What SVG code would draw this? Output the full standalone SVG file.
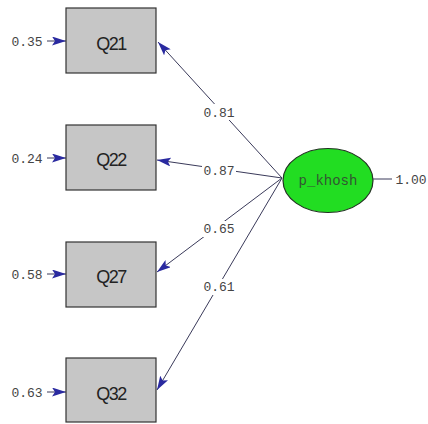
<svg xmlns="http://www.w3.org/2000/svg" width="428" height="424" viewBox="0 0 428 424">
<defs>
<marker id="ah" viewBox="0 0 14 9" refX="14" refY="4.5" markerWidth="14" markerHeight="9" markerUnits="userSpaceOnUse" orient="auto">
<path d="M0,0 L14,4.5 L0,9 L3,4.5 Z" fill="#2a2aa0"/>
</marker>
<style>
.box{fill:#c6c6c6;stroke:#333;stroke-width:1.2}
.bt{font-family:"Liberation Sans",Arial,sans-serif;font-size:18px;letter-spacing:-1.5px;fill:#222;text-anchor:middle}
.num{font-family:"Liberation Mono","Courier New",monospace;font-size:13px;fill:#444;text-anchor:middle}
.ln{stroke:#3a3a5a;stroke-width:1;fill:none}
.lbg{fill:#fff}
</style>
</defs>
<rect width="428" height="424" fill="#fff"/>
<g id="connectors">
<line class="ln" x1="282" y1="178" x2="158" y2="42" marker-end="url(#ah)"/>
<line class="ln" x1="282" y1="178" x2="157" y2="160" marker-end="url(#ah)"/>
<line class="ln" x1="282" y1="178" x2="157" y2="272" marker-end="url(#ah)"/>
<line class="ln" x1="282" y1="178" x2="157" y2="390" marker-end="url(#ah)"/>
<line class="ln" x1="47" y1="41" x2="66" y2="41" marker-end="url(#ah)"/>
<line class="ln" x1="47" y1="158" x2="66" y2="158" marker-end="url(#ah)"/>
<line class="ln" x1="47" y1="274" x2="66" y2="274" marker-end="url(#ah)"/>
<line class="ln" x1="47" y1="392" x2="66" y2="392" marker-end="url(#ah)"/>
<line class="ln" x1="373" y1="179" x2="392" y2="179"/>
<rect class="lbg" x="202" y="104" width="34" height="16"/>
<text class="num" x="219" y="117">0.81</text>
<rect class="lbg" x="202" y="163" width="34" height="16"/>
<text class="num" x="219" y="175">0.87</text>
<rect class="lbg" x="202" y="221" width="34" height="16"/>
<text class="num" x="219" y="233">0.65</text>
<rect class="lbg" x="202" y="279" width="34" height="16"/>
<text class="num" x="219" y="291">0.61</text>
</g>
<g id="Q21">
<rect class="box" x="66" y="8" width="90" height="65"/>
<text class="bt" x="111" y="50">Q21</text>
<text class="num" x="27" y="46">0.35</text>
</g>
<g id="Q22">
<rect class="box" x="66" y="125" width="90" height="65"/>
<text class="bt" x="111" y="166">Q22</text>
<text class="num" x="27" y="163">0.24</text>
</g>
<g id="Q27">
<rect class="box" x="66" y="242" width="90" height="65"/>
<text class="bt" x="111" y="283">Q27</text>
<text class="num" x="27" y="279">0.58</text>
</g>
<g id="Q32">
<rect class="box" x="66" y="358" width="90" height="64"/>
<text class="bt" x="111" y="400">Q32</text>
<text class="num" x="27" y="397">0.63</text>
</g>
<g id="p_khosh">
<ellipse cx="328" cy="180.5" rx="45" ry="32" fill="#22dd22" stroke="#223322" stroke-width="1.2"/>
<text class="num" x="328" y="185" style="font-size:14px;fill:#335533">p_khosh</text>
<text class="num" x="411" y="184">1.00</text>
</g>
</svg>
